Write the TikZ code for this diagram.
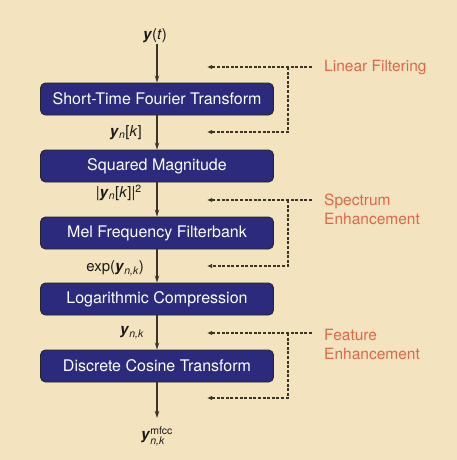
\documentclass[tikz,border=0pt]{standalone}
\usepackage{amsmath}
\usepackage{fontspec}
\setmainfont{TeX Gyre Heros}
\usetikzlibrary{arrows.meta}
\definecolor{bgbeige}{HTML}{F3E3BE}
\definecolor{boxblue}{HTML}{2C2A7C}
\definecolor{labelred}{HTML}{E0674A}
\definecolor{linedark}{HTML}{3B3428}
\tikzset{
  procbox/.style={draw=black!85, line width=0.9pt, fill=boxblue, rounded corners=5pt,
    minimum width=233pt, minimum height=32pt, text=white, font=\fontsize{16}{18}\selectfont, inner sep=0pt},
  sig/.style={font=\fontsize{15}{17}\selectfont, text=black!90, inner sep=1pt},
  flow/.style={draw=linedark, line width=1.1pt, -{Stealth[length=7pt,width=4.5pt]}},
  fb/.style={draw=linedark, line width=1.2pt, dash pattern=on 3pt off 1.6pt},
  fbarrow/.style={fb, -{Latex[length=5pt,width=4.5pt]}},
  fblabel/.style={text=labelred, font=\fontsize{15.5}{19}\selectfont, align=left, anchor=west, inner sep=0pt}
}
\begin{document}
\begin{tikzpicture}[x=1pt,y=-1pt]
\fill[bgbeige] (0,0) rectangle (457,460);
\useasboundingbox (0,0) rectangle (457,460);
% process boxes
\node[procbox] (stft) at (157,99) {Short-Time Fourier Transform};
\node[procbox] (sqm) at (157,166) {Squared Magnitude};
\node[procbox] (mel) at (157,233) {Mel Frequency Filterbank};
\node[procbox] (log) at (157,299) {Logarithmic Compression};
\node[procbox] (dct) at (157,366) {Discrete Cosine Transform};
% signal labels
\node[sig] (yt) at (155,36) {\textbf{\textit{y}}(\textit{t})};
\node[sig, anchor=east] (ynk) at (143,133) {\textbf{\textit{y}}$_{\textit{n}}$[\textit{k}]};
\node[sig, anchor=east] (mag) at (143,193) {|\textbf{\textit{y}}$_{\textit{n}}$[\textit{k}]|$^{\text{2}}$};
\node[sig, anchor=east] (expl) at (145,268) {exp(\textbf{\textit{y}}$_{\textit{n,k}}$)};
\node[sig, anchor=east] (ynk2) at (145,333) {\textbf{\textit{y}}$_{\textit{n,k}}$};
\node[sig] (mfcc) at (157,436) {\textbf{\textit{y}}$^{\text{mfcc}}_{\textit{n,k}}$};
% main flow
\coordinate (outend) at (157,418);
\draw[flow] (stft.north |- yt.south) -- (stft.north);
\draw[flow] (stft.south) -- (sqm.north);
\draw[flow] (sqm.south) -- (mel.north);
\draw[flow] (mel.south) -- (log.north);
\draw[flow] (log.south) -- (dct.north);
\draw[flow] (dct.south) -- (outend);
% feedback labels
\node[fblabel] (lf) at (324,68) {Linear Filtering};
\node[fblabel] (se) at (324,209) {Spectrum\\Enhancement};
\node[fblabel] (fe) at (324,344) {Feature\\Enhancement};
% linear filtering dashed
\coordinate (lfs) at (312,67);
\coordinate (lfb) at (288,67);
\coordinate (lft) at (207,67);
\coordinate (lfc) at (288,132);
\coordinate (lfe) at (207,132);
\draw[fbarrow] (lfs) -- (lft);
\draw[fbarrow] (lfb) -- (lfc) -- (lfe);
% spectrum dashed
\coordinate (ses) at (312,200);
\coordinate (seb) at (288,200);
\coordinate (set) at (207,200);
\coordinate (sec) at (288,266);
\coordinate (see) at (207,266);
\draw[fbarrow] (ses) -- (set);
\draw[fbarrow] (seb) -- (sec) -- (see);
% feature dashed
\coordinate (fes) at (312,333);
\coordinate (feb) at (288,333);
\coordinate (fet) at (207,333);
\coordinate (fec) at (288,398);
\coordinate (fee) at (207,398);
\draw[fbarrow] (fes) -- (fet);
\draw[fbarrow] (feb) -- (fec) -- (fee);
\end{tikzpicture}
\end{document}
